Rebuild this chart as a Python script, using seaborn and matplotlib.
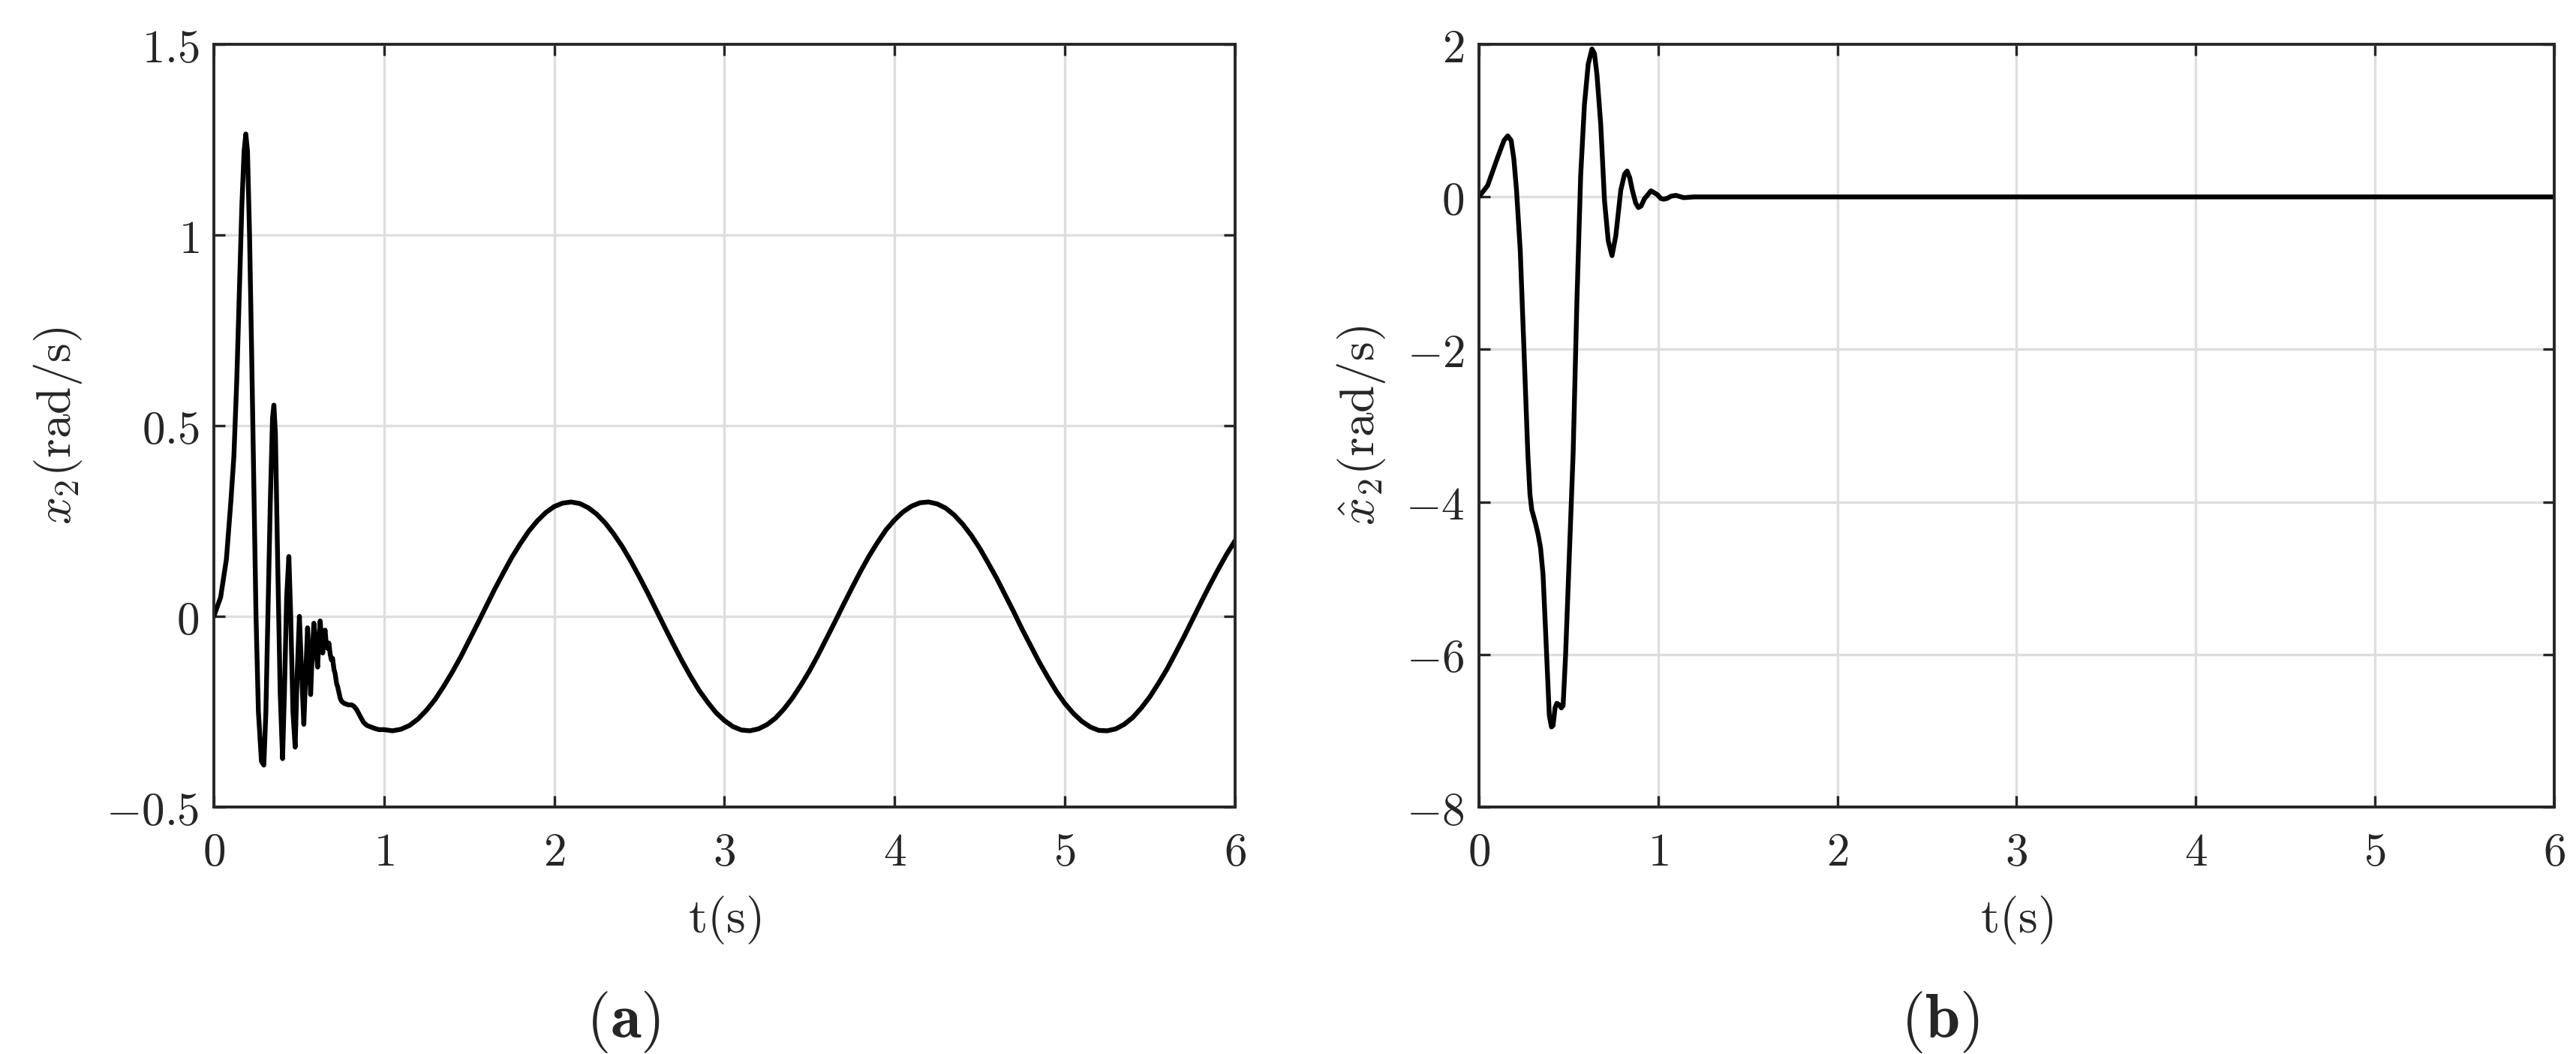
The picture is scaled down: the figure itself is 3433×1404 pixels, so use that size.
import matplotlib
matplotlib.use("Agg")
from matplotlib import pyplot as plt
from matplotlib.ticker import FuncFormatter
import seaborn as sns

sns.set_theme(style="white")
plt.rcParams["mathtext.fontset"] = "cm"
plt.rcParams["font.family"] = ["DejaVu Serif"]

# panel (a): x2, transient up to ~1 s, then the steady oscillation
t_a = [0.000, 0.040, 0.074, 0.100, 0.118, 0.135, 0.150, 0.165, 0.178, 0.188,
       0.198, 0.210, 0.222, 0.235, 0.248, 0.262, 0.280, 0.294, 0.306, 0.318,
       0.332, 0.345, 0.353, 0.362, 0.375, 0.390, 0.404, 0.415, 0.428, 0.441,
       0.452, 0.465, 0.478, 0.490, 0.503, 0.516, 0.529, 0.540, 0.551, 0.560,
       0.569, 0.578, 0.588, 0.599, 0.610, 0.618, 0.625, 0.633, 0.640, 0.647,
       0.654, 0.662, 0.669, 0.676, 0.684, 0.691, 0.698, 0.706, 0.713, 0.721,
       0.728, 0.735, 0.743, 0.750, 0.765, 0.790, 0.810, 0.824, 0.840, 0.860,
       0.880, 0.900, 0.940, 0.970,
       1.00, 1.05, 1.10, 1.15, 1.20, 1.25, 1.30, 1.35, 1.40, 1.45,
       1.50, 1.55, 1.60, 1.65, 1.70, 1.75, 1.80, 1.85, 1.90, 1.95,
       2.00, 2.05, 2.10, 2.15, 2.20, 2.25, 2.30, 2.35, 2.40, 2.45,
       2.50, 2.55, 2.60, 2.65, 2.70, 2.75, 2.80, 2.85, 2.90, 2.95,
       3.00, 3.05, 3.10, 3.15, 3.20, 3.25, 3.30, 3.35, 3.40, 3.45,
       3.50, 3.55, 3.60, 3.65, 3.70, 3.75, 3.80, 3.85, 3.90, 3.95,
       4.00, 4.05, 4.10, 4.15, 4.20, 4.25, 4.30, 4.35, 4.40, 4.45,
       4.50, 4.55, 4.60, 4.65, 4.70, 4.75, 4.80, 4.85, 4.90, 4.95,
       5.00, 5.05, 5.10, 5.15, 5.20, 5.25, 5.30, 5.35, 5.40, 5.45,
       5.50, 5.55, 5.60, 5.65, 5.70, 5.75, 5.80, 5.85, 5.90, 5.95, 6.00]
x2 = [0.000, 0.050, 0.150, 0.300, 0.420, 0.620, 0.850, 1.080, 1.220, 1.265,
      1.220, 1.000, 0.700, 0.350, 0.000, -0.250, -0.380, -0.390, -0.250, 0.000,
      0.300, 0.520, 0.554, 0.480, 0.150, -0.200, -0.373, -0.200, 0.050, 0.157,
      0.000, -0.250, -0.343, -0.150, 0.000, -0.150, -0.283, -0.150, -0.030, -0.120,
      -0.205, -0.100, -0.018, -0.080, -0.133, -0.060, -0.012, -0.060, -0.096, -0.050,
      -0.036, -0.080, -0.084, -0.070, -0.100, -0.114, -0.110, -0.139, -0.150, -0.175,
      -0.185, -0.199, -0.215, -0.222, -0.228, -0.232, -0.232, -0.236, -0.245, -0.262,
      -0.278, -0.286, -0.293, -0.297,
      -0.297, -0.300, -0.296, -0.286, -0.269, -0.246, -0.218, -0.184, -0.147, -0.107,
      -0.063, -0.019, 0.026, 0.071, 0.113, 0.154, 0.190, 0.223, 0.250, 0.272,
      0.288, 0.297, 0.300, 0.296, 0.285, 0.268, 0.245, 0.216, 0.183, 0.145,
      0.104, 0.061, 0.016, -0.029, -0.073, -0.116, -0.156, -0.193, -0.224, -0.252,
      -0.273, -0.289, -0.298, -0.300, -0.295, -0.284, -0.267, -0.243, -0.214, -0.180,
      -0.143, -0.102, -0.058, -0.014, 0.031, 0.075, 0.118, 0.158, 0.194, 0.227,
      0.253, 0.274, 0.289, 0.298, 0.300, 0.295, 0.284, 0.266, 0.242, 0.213,
      0.179, 0.140, 0.100, 0.056, 0.012, -0.034, -0.077, -0.120, -0.159, -0.196,
      -0.228, -0.254, -0.275, -0.290, -0.299, -0.300, -0.295, -0.283, -0.265, -0.240,
      -0.211, -0.176, -0.139, -0.097, -0.054, -0.009, 0.036, 0.080, 0.122, 0.162, 0.198]

# panel (b): estimated x2
t_b = [0.000, 0.049, 0.105, 0.140, 0.161, 0.180, 0.195, 0.210, 0.231, 0.252,
       0.273, 0.285, 0.295, 0.316, 0.330, 0.344, 0.358, 0.372, 0.393, 0.405,
       0.414, 0.425, 0.435, 0.449, 0.460, 0.470, 0.484, 0.505, 0.526, 0.547,
       0.568, 0.589, 0.610, 0.631, 0.645, 0.659, 0.680, 0.701, 0.722, 0.743,
       0.764, 0.792, 0.813, 0.827, 0.842, 0.856, 0.875, 0.890, 0.905, 0.925,
       0.940, 0.960, 0.975, 0.996, 1.015, 1.031, 1.050, 1.073, 1.100, 1.143,
       1.200, 6.000]
x2_hat = [0.00, 0.15, 0.52, 0.74, 0.80, 0.74, 0.50, 0.09, -0.71, -2.03,
          -3.36, -3.90, -4.10, -4.28, -4.42, -4.60, -4.95, -5.68, -6.80, -6.95,
          -6.93, -6.70, -6.64, -6.66, -6.70, -6.67, -6.00, -4.68, -3.36, -1.37,
          0.28, 1.21, 1.74, 1.94, 1.88, 1.60, 0.95, -0.05, -0.58, -0.77,
          -0.51, 0.09, 0.30, 0.34, 0.25, 0.09, -0.08, -0.14, -0.12, -0.02,
          0.02, 0.08, 0.06, 0.03, -0.02, -0.03, -0.02, 0.01, 0.02, -0.01,
          0.00, 0.00]

x_ticks = [0, 1, 2, 3, 4, 5, 6]
y_ticks_a = [-0.5, 0, 0.5, 1, 1.5]
y_ticks_b = [-8, -6, -4, -2, 0, 2]


def math_fmt(v, pos):
    return r"$%s$" % ("%g" % v)


fig = plt.figure(figsize=(17.165, 7.02), dpi=200)
ax1 = fig.add_axes([0.0830, 0.2343, 0.3964, 0.7236])
ax2 = fig.add_axes([0.5741, 0.2343, 0.4174, 0.7236])

panels = [
    (ax1, t_a, x2, y_ticks_a, r"$x_2\mathrm{(rad/s)}$", -0.127),
    (ax2, t_b, x2_hat, y_ticks_b, r"$\hat{x}_2\mathrm{(rad/s)}$", -0.085),
]
for ax, t, v, yt, ylab, lab_x in panels:
    sns.lineplot(x=t, y=v, ax=ax, color="black", linewidth=2.3, estimator=None, sort=False)
    ax.set_xlim(0, 6)
    ax.set_ylim(yt[0], yt[-1])
    ax.set_xticks(x_ticks)
    ax.set_yticks(yt)
    ax.xaxis.set_major_formatter(FuncFormatter(math_fmt))
    ax.yaxis.set_major_formatter(FuncFormatter(math_fmt))
    ax.grid(True, color="#dedede", linewidth=1.2)
    ax.set_axisbelow(True)
    for s in ax.spines.values():
        s.set_color("#262626")
        s.set_linewidth(1.4)
    ax.tick_params(axis="both", which="major", direction="in", length=5.4, width=1.2,
                   color="#262626", labelcolor="#262626", labelsize=22,
                   top=True, right=True, left=True, bottom=True)
    ax.tick_params(axis="x", pad=11)
    ax.tick_params(axis="y", pad=7)
    ax.set_xlabel(r"$\mathrm{t(s)}$", fontsize=23.5, color="#262626", labelpad=9)
    ax.set_ylabel(ylab, fontsize=23.5, color="#262626")
    ax.yaxis.set_label_coords(lab_x, 0.5)

fig.text(0.242, 0.030, r"$(\mathbf{a})$", ha="center", va="center", fontsize=30)
fig.text(0.753, 0.030, r"$(\mathbf{b})$", ha="center", va="center", fontsize=30)

fig.savefig("out.png", dpi=200, facecolor="white")
